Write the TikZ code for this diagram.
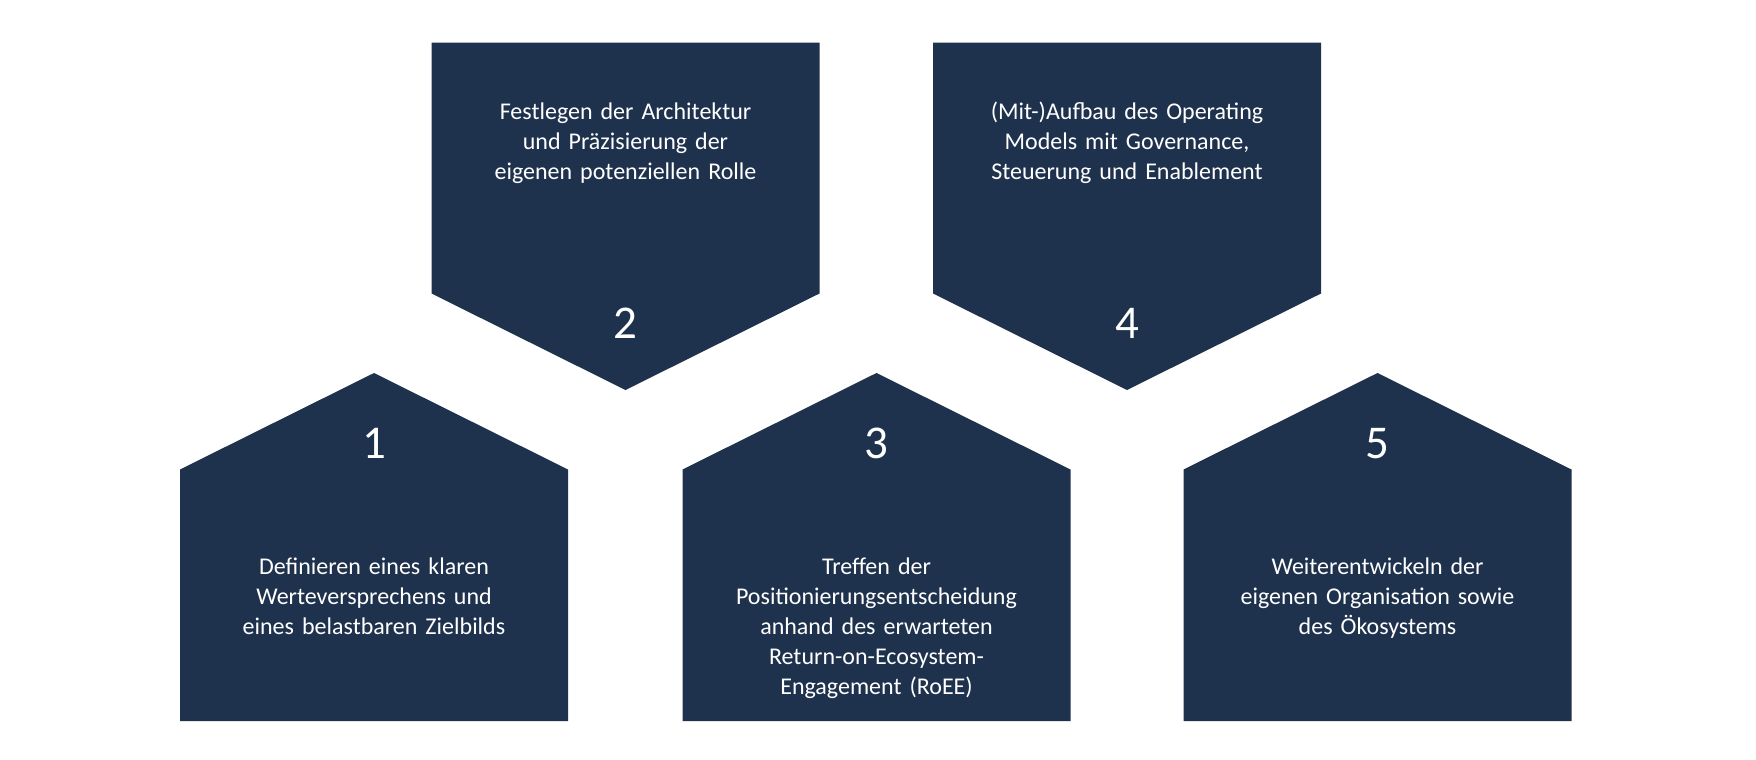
\documentclass[tikz,border=0pt]{standalone}
\usepackage{fontspec}
\setmainfont[WordSpace=0.8]{Carlito}
\definecolor{navy}{RGB}{31,50,77}
\tikzset{
    box/.style={fill=navy},
    nr/.style={text=white, anchor=base, inner sep=0pt, font=\fontsize{23.5}{28}\selectfont},
    txt/.style={text=white, anchor=base, inner sep=0pt, align=center, text width=190pt,
        font=\fontsize{12}{15}\selectfont}
}
\begin{document}
\begin{tikzpicture}[x=0.5pt, y=-0.5pt]
    \useasboundingbox (0,0) rectangle (1756,760);
    \fill[box] (180,469.5) -- (374,373) -- (568,469.5) -- (568,721) -- (180,721) -- cycle;
    \fill[box] (431.5,42.7) -- (819.5,42.7) -- (819.5,293.5) -- (625.5,390) -- (431.5,293.5) -- cycle;
    \fill[box] (682.5,469.5) -- (876.5,373) -- (1070.5,469.5) -- (1070.5,721) -- (682.5,721) -- cycle;
    \fill[box] (933,42.7) -- (1321,42.7) -- (1321,293.5) -- (1127,390) -- (933,293.5) -- cycle;
    \fill[box] (1183.5,469.5) -- (1377.5,373) -- (1571.5,469.5) -- (1571.5,721) -- (1183.5,721) -- cycle;
    \node[nr] (n1) at (374,458) {1};
    \node[nr] (n2) at (625.5,338) {2};
    \node[nr] (n3) at (876.5,458) {3};
    \node[nr] (n4) at (1127,338) {4};
    \node[nr] (n5) at (1377.5,458) {5};
    \node[txt] (t1) at (374,574) {Definieren eines klaren\\Werteversprechens und\\eines belastbaren Zielbilds};
    \node[txt] (t2) at (625.5,119) {Festlegen der Architektur\\und Präzisierung der\\eigenen potenziellen Rolle};
    \node[txt] (t3) at (876.5,574) {Treffen der\\Positionierungsentscheidung\\anhand des erwarteten\\Return-on-Ecosystem-\\Engagement (RoEE)};
    \node[txt] (t4) at (1127,119) {(Mit-)Aufbau des Operating\\Models mit Governance,\\Steuerung und Enablement};
    \node[txt] (t5) at (1377.5,574) {Weiterentwickeln der\\eigenen Organisation sowie\\des Ökosystems};
\end{tikzpicture}
\end{document}
